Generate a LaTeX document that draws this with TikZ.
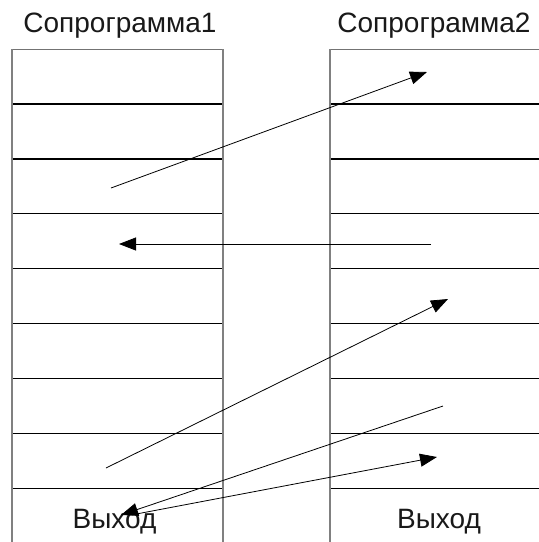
\documentclass[tikz,border=0pt]{standalone}
\usepackage{fontspec}
\setmainfont{Liberation Sans}
\usetikzlibrary{arrows.meta}
\begin{document}
\begin{tikzpicture}[x=1pt,y=-1pt,
  vline/.style={draw=black!50, line width=1.3pt},
  hline/.style={draw=black, line width=1.4pt},
  topline/.style={draw=black!55, line width=1pt},
  conn/.style={draw=black, line width=0.8pt, -{Triangle[length=17pt,width=13pt]}},
  lbl/.style={anchor=base, inner sep=0pt, font=\fontsize{28}{32}\selectfont, text=black!90}]
\useasboundingbox (0,0) rectangle (539,542);
% columns
\draw[topline] (12,49) -- (223,49);
\draw[topline] (330,49) -- (539,49);
\foreach \k in {1,...,8} {
  \pgfmathsetmacro{\yy}{49+54.9*\k}
  \draw[hline] (12,\yy) -- (223,\yy);
  \draw[hline] (330,\yy) -- (539,\yy);
}
\draw[vline] (12,49) -- (12,542);
\draw[vline] (223,49) -- (223,542);
\draw[vline] (330,49) -- (330,542);
% labels
\node[lbl] (t1) at (120,32) {Сопрограмма1};
\node[lbl] (t2) at (434,32) {Сопрограмма2};
\node[lbl] (e1) at (114.5,528) {Выход};
\node[lbl] (e2) at (439,528) {Выход};
% connector end points
\coordinate (a1s) at (111,188);
\coordinate (a1e) at (427,72);
\coordinate (a2s) at (431,244);
\coordinate (a2e) at (119,244);
\coordinate (a3s) at (106,468);
\coordinate (a3e) at (448,299);
\coordinate (a4s) at (443,406);
\coordinate (a4e) at (121,515);
\coordinate (a5s) at (131,515);
\coordinate (a5e) at (437,457);
\draw[conn] (a1s) -- (a1e);
\draw[conn] (a2s) -- (a2e);
\draw[conn] (a3s) -- (a3e);
\draw[conn] (a4s) -- (a4e);
\draw[conn] (a5s) -- (a5e);
\end{tikzpicture}
\end{document}
